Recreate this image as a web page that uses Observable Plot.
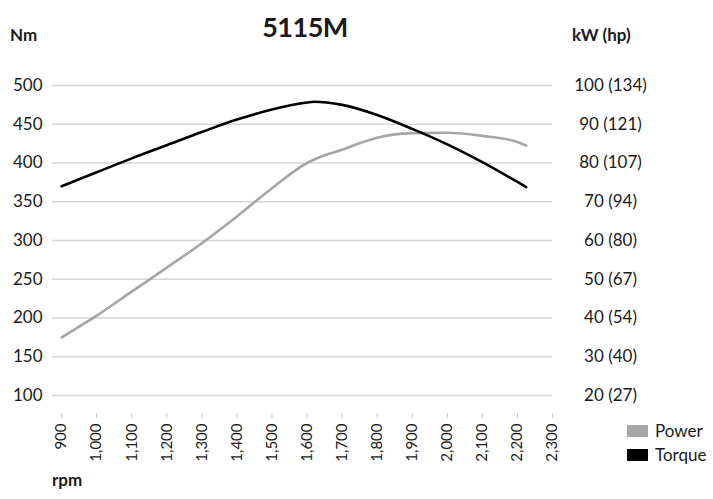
<!DOCTYPE html>
<html>
<head>
<meta charset="utf-8">
<script src="https://cdn.jsdelivr.net/npm/d3@7"></script>
<script src="https://cdn.jsdelivr.net/npm/@observablehq/plot@0.6"></script>
<style>
  html, body { margin: 0; padding: 0; background: #fff; }
  #wrap { position: relative; width: 713px; height: 499px; font-family: Lato, "Open Sans", sans-serif; color: #1a1a1a; }
  .lbl { position: absolute; white-space: nowrap; line-height: 1; }
  .b { font-weight: 700; }
  .sw { position: absolute; width: 21px; height: 12px; }
</style>
</head>
<body>
<div id="wrap">
  <div id="chart"></div>
  <div class="lbl b" style="left:0;width:610px;text-align:center;top:13px;font-size:27px;letter-spacing:-0.5px;">5115M</div>
  <div class="lbl b" style="left:10px;top:26px;font-size:17px;">Nm</div>
  <div class="lbl b" style="left:572px;top:26px;font-size:17px;">kW (hp)</div>
  <div class="lbl b" style="left:52px;top:471px;font-size:17px;">rpm</div>
  <div class="sw" style="left:627px;top:425px;background:#a6a6a6;"></div>
  <div class="lbl" style="left:655px;top:422px;font-size:17px;">Power</div>
  <div class="sw" style="left:627px;top:449px;background:#000;"></div>
  <div class="lbl" style="left:655px;top:446px;font-size:17px;">Torque</div>
</div>
<script>
// Data
const torqueRpm = [900, 1000, 1100, 1200, 1300, 1400, 1500, 1600, 1620, 1700, 1800, 1900, 2000, 2100, 2200, 2225];
const torqueNm  = [370, 388, 406, 423, 440, 456, 469, 478, 479, 475, 462, 444, 424, 401, 375.5, 369];
const powerRpm  = [900, 1000, 1100, 1200, 1300, 1400, 1500, 1600, 1650, 1700, 1750, 1800, 1900, 2000, 2100, 2200, 2225];
const powerKw   = [35, 40.6, 46.8, 53, 59.3, 66.2, 73.5, 80, 82, 83.4, 85.1, 86.5, 87.7, 87.8, 87, 85.4, 84.5];
const xTicks = [900, 1000, 1100, 1200, 1300, 1400, 1500, 1600, 1700, 1800, 1900, 2000, 2100, 2200, 2300];
const nmTicks = [100, 150, 200, 250, 300, 350, 400, 450, 500];
const kwTicks = [20, 30, 40, 50, 60, 70, 80, 90, 100];
const hpLabels = [27, 40, 54, 67, 80, 94, 107, 121, 134];

const NM_PER_KW = 5; // right axis 20..100 kW aligned to left 100..500 Nm
const torque = torqueRpm.map((r, i) => ({rpm: r, v: torqueNm[i]}));
const power = powerRpm.map((r, i) => ({rpm: r, v: powerKw[i] * NM_PER_KW}));
const rightLabel = new Map(kwTicks.map((k, i) => [k * NM_PER_KW, `${k} (${hpLabels[i]})`]));

const chart = Plot.plot({
  width: 713,
  height: 499,
  marginLeft: 52,
  marginRight: 161,
  marginTop: 85,
  marginBottom: 104,
  style: {fontFamily: "Lato, 'Open Sans', sans-serif", color: "#1a1a1a", background: "transparent"},
  x: {domain: [874, 2300]},
  y: {domain: [100, 500]},
  marks: [
    Plot.ruleY(nmTicks, {stroke: "#d6d6d6", strokeWidth: 1.3}),
    Plot.axisY(nmTicks, {anchor: "left", tickSize: 0, tickPadding: 10, fontSize: 17, label: null}),
    Plot.axisY(nmTicks, {anchor: "right", tickSize: 0, tickPadding: 0, dx: 58, textAnchor: "middle", fontSize: 17, label: null, tickFormat: d => rightLabel.get(d)}),
    Plot.axisX(xTicks, {anchor: "bottom", tickSize: 5, dy: 18, stroke: "#c8c8c8", tickFormat: () => "", label: null}),
    Plot.axisX(xTicks, {anchor: "bottom", tickSize: 0, tickPadding: 28, tickRotate: -90, fontSize: 15, tickFormat: d3.format(","), label: null}),
    Plot.line(power, {x: "rpm", y: "v", stroke: "#a6a6a6", strokeWidth: 2.6, curve: "monotone-x"}),
    Plot.line(torque, {x: "rpm", y: "v", stroke: "#000", strokeWidth: 2.6, curve: "monotone-x"})
  ]
});
document.getElementById("chart").appendChild(chart);
</script>
</body>
</html>
